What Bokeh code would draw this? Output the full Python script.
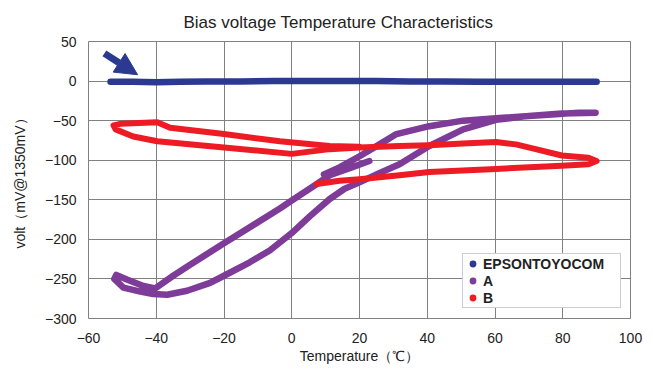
from bokeh.plotting import figure
from bokeh.models import Range1d, FixedTicker, Legend, LegendItem, Arrow, NormalHead
from bokeh.embed import file_html
from bokeh.resources import INLINE

# ---------------- data ----------------
title_text = "Bias voltage Temperature Characteristics"
x_label = "Temperature\uff08\u2103\uff09"
y_label = "volt\uff08mV@1350mV\uff09"
series_names = ["EPSONTOYOCOM", "A", "B"]

x_ticks = [-60, -40, -20, 0, 20, 40, 60, 80, 100]
y_ticks = [50, 0, -50, -100, -150, -200, -250, -300]

epson_temp = [-53.5, -47, -40, -33, -25, -15, -5, 5, 15, 25, 35, 45, 55, 65, 75, 85, 90]
epson_volt = [-1, -1, -1.5, -1, -0.5, -0.5, 0, 0, 0, 0, -0.5, -0.5, -1, -1, -1, -1, -1]

a_temp = [22.9, 17.1, 11.2, 7.4, 0.0, -3.5, -20.0, -30.0, -35.0, -40.3, -43.8, -48.5, -51.8,
          -52.4, -49.7, -44.7, -40.9, -36.8, -30.9, -24.1, -20.0, -12.4, -6.5, 0.0, 5.3,
          11.2, 15.6, 20.0, 25.5, 31.8, 40.6, 50.6, 60.3, 70.0, 79.7, 89.7, 84.7, 70.0,
          60.3, 50.6, 40.6, 30.9, 25.9, 20.0, 14.1, 9.5]
a_volt = [-101, -110, -119, -130, -151, -161, -205, -232, -246, -262, -259, -251, -245,
          -250, -261, -266, -269, -270, -265, -255, -246, -229, -214, -192, -171,
          -149, -136, -128, -117, -105, -82, -61, -49, -44, -41, -40, -40, -44,
          -47, -50, -57, -67, -80, -95, -109, -118]

b_temp = [7.4, 14.1, 20.0, 31.8, 40.6, 60.3, 79.7, 87.6, 90.0, 87.6, 79.7, 72.0, 66.2,
          60.3, 50.6, 40.6, 31.8, 20.0, 11.2, 0.0, -20.0, -39.7, -46.8, -52.0, -52.6,
          -50.6, -39.7, -35.9, -20.0, -3.5, 11.2, 20.0]
b_volt = [-130, -126, -124, -119, -115, -111, -107, -105, -101, -97, -94, -86, -80,
          -77, -79, -81, -82, -84, -86, -92, -84, -76, -70, -61, -56,
          -54, -52, -59, -67, -76, -82, -83]

arrow_start = (-55.3, 35)
arrow_end = (-45.5, 8)

# ---------------- style ----------------
C_BLUE = "#2b3990"
C_PURPLE = "#7e3b98"
C_RED = "#ed1c24"
GRID = "#808080"
FONT = "Liberation Sans"


def fmt(t):
    return ("\u2212" + str(-t)) if t < 0 else str(t)


p = figure(width=648, height=366, output_backend="svg", toolbar_location=None,
           x_range=Range1d(-60, 100), y_range=Range1d(-300, 50),
           min_border_left=88, min_border_right=18, min_border_top=41, min_border_bottom=46)

p.title.text = title_text
p.title.align = "left"
p.title.offset = 95
p.title.standoff = 20
p.title.text_font = FONT
p.title.text_font_size = "17px"
p.title.text_font_style = "normal"
p.title.text_color = "#222222"

p.outline_line_color = GRID
p.outline_line_width = 1
p.background_fill_color = "white"
p.border_fill_color = "white"

p.xaxis.ticker = FixedTicker(ticks=x_ticks)
p.yaxis.ticker = FixedTicker(ticks=y_ticks)
p.xaxis.major_label_overrides = {t: fmt(t) for t in x_ticks}
p.yaxis.major_label_overrides = {t: fmt(t) for t in y_ticks}
p.xaxis.axis_label = x_label
p.yaxis.axis_label = y_label
for ax in (p.xaxis, p.yaxis):
    ax.axis_line_color = None
    ax.major_tick_line_color = None
    ax.minor_tick_line_color = None
    ax.major_label_text_font = FONT
    ax.major_label_text_font_size = "14px"
    ax.major_label_text_color = "#222222"
    ax.axis_label_text_font = FONT
    ax.axis_label_text_font_size = "14px"
    ax.axis_label_text_font_style = "normal"
    ax.axis_label_text_color = "#222222"
p.xaxis.major_label_standoff = 8
p.xaxis.axis_label_standoff = 2
p.yaxis.major_label_standoff = 6
p.yaxis.axis_label_standoff = 14

p.xgrid.ticker = FixedTicker(ticks=x_ticks)
p.ygrid.ticker = FixedTicker(ticks=y_ticks)
for g in (p.xgrid, p.ygrid):
    g.grid_line_color = GRID
    g.grid_line_width = 1

# legend marker renderers (zero-size, only their legend glyph shows)
legend_renderers = []
for xs, ys, col in [(epson_temp, epson_volt, C_BLUE), (a_temp, a_volt, C_PURPLE),
                    (b_temp, b_volt, C_RED)]:
    r = p.scatter(x=xs[:1], y=ys[:1], marker="circle", size=0,
                  fill_color=col, line_color=None)
    legend_renderers.append(r)

lw = 6.5
p.line(a_temp, a_volt, line_color=C_PURPLE, line_width=lw, line_cap="round", line_join="round")
p.line(b_temp, b_volt, line_color=C_RED, line_width=6, line_cap="round", line_join="round")
p.line(epson_temp, epson_volt, line_color=C_BLUE, line_width=lw, line_cap="round", line_join="round")

p.add_layout(Arrow(end=NormalHead(size=22, fill_color=C_BLUE, line_color=C_BLUE),
                   x_start=arrow_start[0], y_start=arrow_start[1],
                   x_end=arrow_end[0], y_end=arrow_end[1],
                   line_color=C_BLUE, line_width=7))

items = [LegendItem(label=n, renderers=[r]) for n, r in zip(series_names, legend_renderers)]
legend = Legend(items=items, location=(374, 10))
legend.glyph_width = 17
legend.glyph_height = 17
legend.label_height = 17
legend.label_width = 136
legend.label_standoff = 2
legend.spacing = 0
legend.padding = 1
legend.margin = 0
legend.label_text_font = FONT
legend.label_text_font_size = "14px"
legend.label_text_font_style = "bold"
legend.label_text_color = "#222222"
legend.border_line_color = "#9a9ac0"
legend.border_line_width = 1
legend.background_fill_color = "white"
legend.background_fill_alpha = 1
p.add_layout(legend, "center")

open("out.html", "w").write(file_html(p, INLINE))
